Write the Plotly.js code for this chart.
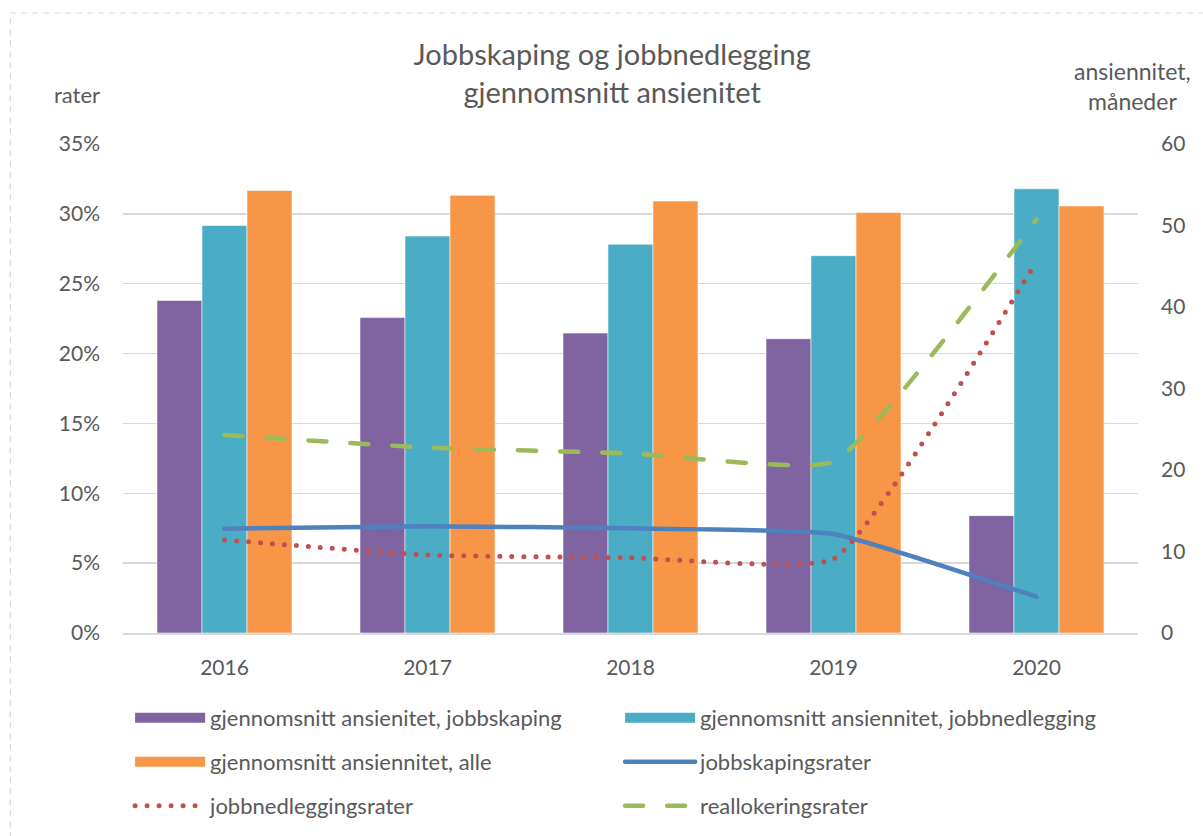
<!DOCTYPE html>
<html>
<head>
<meta charset="utf-8">
<script src="https://cdn.plot.ly/plotly-3.0.1.min.js"></script>
<style>
html,body{margin:0;padding:0;background:#fff;}
#chart{width:1203px;height:836px;}
.scatterlayer path.js-line{stroke-linecap:round !important;}
.legend3 path.js-line{stroke-linecap:round !important;}
.legend2 g.traces:last-child path.js-line{stroke-linecap:round !important;}
</style>
</head>
<body>
<div id="chart"></div>
<script>
// ---- data ----
const years = ['2016', '2017', '2018', '2019', '2020'];
// average tenure (months), right axis
const tenureCreation = [40.8, 38.7, 36.8, 36.1, 14.4];
const tenureDestruction = [50.0, 48.7, 47.7, 46.3, 54.5];
const tenureAll = [54.3, 53.7, 53.0, 51.6, 52.4];
// rates (%), left axis
const creationRate = [7.47, 7.64, 7.49, 7.09, 2.6];
const destructionRate = [6.66, 5.58, 5.39, 5.3, 26.6];
const reallocationRate = [14.17, 13.27, 12.86, 12.26, 29.6];
const leftTicks = [0, 5, 10, 15, 20, 25, 30, 35];
const rightTicks = [0, 10, 20, 30, 40, 50, 60];
const barNames = ['gjennomsnitt ansienitet, jobbskaping', 'gjennomsnitt ansiennitet, jobbnedlegging', 'gjennomsnitt ansiennitet, alle'];
const lineNames = ['jobbskapingsrater', 'jobbnedleggingsrater', 'reallokeringsrater'];

const FONT = 'Lato, "Open Sans", sans-serif';
const GREY = '#595959';
const barColors = ['#8064A2', '#4BACC6', '#F79646'];
const barLine = {color: 'rgba(255,255,255,0.55)', width: 1};
const SM = 0.4;

const barData = [tenureCreation, tenureDestruction, tenureAll];
const legendOf = ['legend', 'legend', 'legend2'];

const traces = [];
// bars (right axis)
barData.forEach((vals, i) => {
  traces.push({type: 'bar', name: barNames[i], x: years, y: vals, yaxis: 'y',
    marker: {color: barColors[i], line: barLine}, showlegend: false, legendgroup: 'b' + i});
});
// legend entries for the bars: wide colour blocks like the reference
const legendEntries = [];
barData.forEach((vals, i) => {
  legendEntries.push({type: 'scatter', mode: 'lines', name: barNames[i], x: [null], y: [null], yaxis: 'y',
    line: {color: barColors[i], width: 13}, legend: legendOf[i], legendgroup: 'b' + i, hoverinfo: 'skip'});
});
const lineTraces = [
  {type: 'scatter', mode: 'lines', name: lineNames[0], x: years, y: creationRate,
   yaxis: 'y2', line: {color: '#4F81BD', width: 4.5, shape: 'spline', smoothing: SM}, legend: 'legend2'},
  {type: 'scatter', mode: 'lines', name: lineNames[1], x: years, y: destructionRate,
   yaxis: 'y2', line: {color: '#C0504D', width: 5, dash: '0px,12px', shape: 'spline', smoothing: SM}, legend: 'legend3'},
  {type: 'scatter', mode: 'lines', name: lineNames[2], x: years, y: reallocationRate,
   yaxis: 'y2', line: {color: '#9BBB59', width: 4.5, dash: '18px,24px', shape: 'spline', smoothing: SM}, legend: 'legend3'}
];
// order: legend rows -> purple, teal | orange, blue | red, green
const allTraces = traces.concat([legendEntries[0], legendEntries[1], legendEntries[2]], lineTraces);

const legendBase = {
  orientation: 'h', x: 0.007, xanchor: 'left', yanchor: 'middle', yref: 'container',
  entrywidth: 405, entrywidthmode: 'pixels', itemwidth: 70,
  font: {family: FONT, size: 22, color: GREY}, bgcolor: 'rgba(0,0,0,0)',
  traceorder: 'normal', itemclick: false, itemdoubleclick: false
};

const tickFont = {family: FONT, size: 21, color: GREY};
const layout = {
  width: 1203, height: 836,
  paper_bgcolor: '#ffffff', plot_bgcolor: '#ffffff',
  font: {family: FONT, color: GREY, size: 21},
  margin: {l: 123, r: 65, t: 144, b: 203},
  title: {text: 'Jobbskaping og jobbnedlegging<br>gjennomsnitt ansienitet',
          font: {family: FONT, size: 29, color: GREY},
          x: 0.482, xanchor: 'center', xref: 'paper', y: 1 - 65 / 836, yref: 'container', yanchor: 'middle'},
  barmode: 'group', bargap: 0.335, bargroupgap: 0,
  showlegend: true,
  xaxis: {type: 'category', showgrid: false, showline: true, linecolor: '#D9D9D9', linewidth: 1.5,
          ticks: '', tickfont: tickFont, ticklabelstandoff: 15, fixedrange: true},
  yaxis: {side: 'right', range: [0, 60], tickvals: rightTicks, ticktext: rightTicks.map(String),
          showgrid: false, zeroline: false, showline: false, ticks: '',
          tickfont: tickFont, ticklabelstandoff: 22, fixedrange: true},
  yaxis2: {side: 'left', overlaying: 'y', range: [0, 35], tickvals: leftTicks,
           ticktext: leftTicks.map(v => v + '%'), showgrid: true, gridcolor: '#D9D9D9', gridwidth: 1.5,
           zeroline: false, showline: false, ticks: '',
           tickfont: tickFont, ticklabelstandoff: 22, fixedrange: true},
  legend: Object.assign({}, legendBase, {y: 1 - 718 / 836}),
  legend2: Object.assign({}, legendBase, {y: 1 - 762 / 836}),
  legend3: Object.assign({}, legendBase, {y: 1 - 806 / 836}),
  annotations: [
    {text: 'rater', xref: 'paper', yref: 'paper', x: -0.045, y: (633 - 94) / 489, xanchor: 'center', yanchor: 'middle',
     showarrow: false, font: {family: FONT, size: 22, color: GREY}},
    {text: 'ansiennitet,<br>måneder', xref: 'paper', yref: 'paper', x: 0.9945, y: (633 - 86) / 489, xanchor: 'center', yanchor: 'middle',
     showarrow: false, font: {family: FONT, size: 23, color: GREY}}
  ],
  shapes: [
    {type: 'rect', xref: 'paper', yref: 'paper', x0: -0.111, x1: 1.2, y0: -0.5, y1: (633 - 13) / 489,
     line: {color: '#D9D9D9', width: 1.2, dash: '6px,5px'}, fillcolor: 'rgba(0,0,0,0)', layer: 'below'}
  ]
};

Plotly.newPlot('chart', allTraces, layout, {displayModeBar: false, staticPlot: true});
</script>
</body>
</html>
